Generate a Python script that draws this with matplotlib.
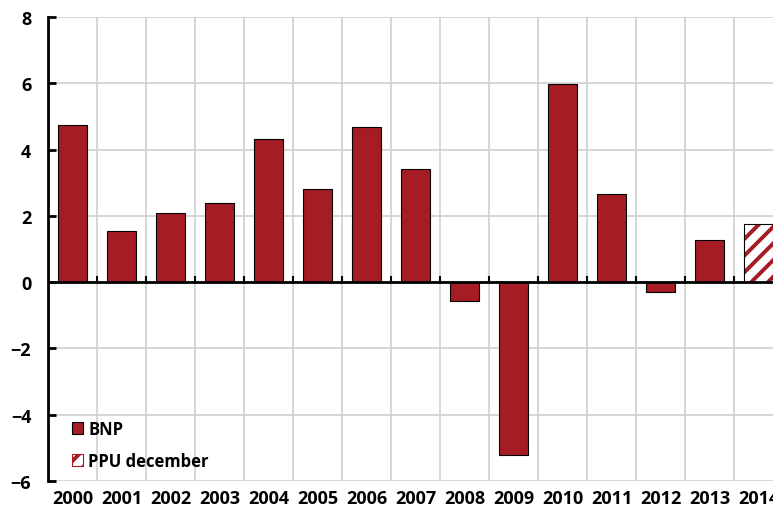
import matplotlib
matplotlib.use("Agg")
import matplotlib.pyplot as plt
from matplotlib.patches import Patch
import numpy as np

years = ["2000", "2001", "2002", "2003", "2004", "2005", "2006", "2007",
         "2008", "2009", "2010", "2011", "2012", "2013", "2014"]
bnp = [4.74, 1.54, 2.08, 2.38, 4.32, 2.81, 4.68, 3.41,
       -0.57, -5.22, 5.97, 2.66, -0.30, 1.27]
ppu = [1.75]  # 2014 forecast (PPU december)

RED = "#A51C24"
plt.rcParams["font.family"] = ["Open Sans", "DejaVu Sans"]
plt.rcParams["font.weight"] = "bold"
plt.rcParams["hatch.linewidth"] = 2.8

fig = plt.figure(figsize=(7.73, 5.10), dpi=100)
ax = fig.add_axes([48 / 773, 28 / 510, 735 / 773, 464 / 510])

x = np.arange(len(years))
ax.bar(x[:len(bnp)], bnp, width=0.6, color=RED, edgecolor="black",
       linewidth=0.8, zorder=3)
xp = x[len(bnp):]
ax.bar(xp, ppu, width=0.6, color="white", edgecolor=RED, hatch="//",
       linewidth=0, zorder=3)
ax.bar(xp, ppu, width=0.6, fill=False, edgecolor="black", linewidth=0.8,
       zorder=4)

ax.set_xlim(-0.5, len(years) - 0.5)
ax.set_ylim(-6, 8)
ax.set_yticks(range(-6, 9, 2))
ax.set_yticklabels([str(v).replace("-", "\u2212") for v in range(-6, 9, 2)])
ax.set_xticks(x)
ax.set_xticklabels(years)

for b in np.arange(0.5, len(years) - 0.5):
    ax.axvline(b, color="#d0d0d0", lw=1.2, zorder=1)
for v in range(-6, 9, 2):
    ax.axhline(v, color="#d0d0d0", lw=1.2, zorder=1)
ax.axhline(0, color="black", lw=2, zorder=5)
for b in np.arange(0.5, len(years) - 0.5):
    ax.plot([b, b], [0, 0.15], color="black", lw=1.5, zorder=5)

for s in ["top", "right", "bottom"]:
    ax.spines[s].set_visible(False)
ax.spines["left"].set_linewidth(2)
ax.tick_params(axis="y", direction="in", length=6, width=2, labelsize=13, pad=12)
ax.tick_params(axis="x", which="both", length=0, labelsize=13, pad=6)

handles = [Patch(facecolor=RED, edgecolor="black", linewidth=0.8, label="BNP"),
           Patch(facecolor="white", edgecolor=RED, hatch="//", linewidth=0.8,
                 label="PPU december")]
ax.legend(handles=handles, loc="lower left", bbox_to_anchor=(0.012, -0.008),
          frameon=False, fontsize=12, handlelength=0.7, handleheight=0.7,
          handletextpad=0.3, labelspacing=0.85)

fig.savefig("out.png", dpi=100)
